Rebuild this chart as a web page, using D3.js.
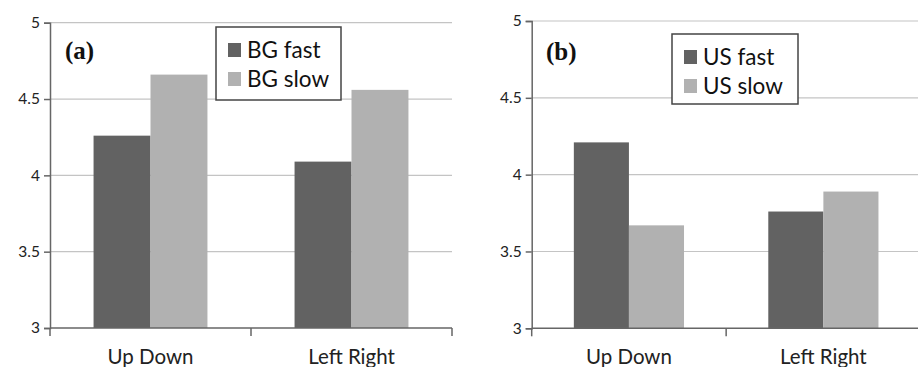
<!DOCTYPE html>
<html><head><meta charset="utf-8">
<script src="https://cdn.jsdelivr.net/npm/d3@7"></script>
<style>body{margin:0;background:#fff}svg{display:block}</style>
</head><body>
<svg id="c" width="918" height="367"></svg>
<script>
const categories = ["Up Down", "Left Right"];
const seriesA = ["BG fast", "BG slow"];
const valuesA = [[4.26, 4.66], [4.09, 4.56]];
const seriesB = ["US fast", "US slow"];
const valuesB = [[4.21, 3.67], [3.76, 3.89]];
const yTicks = [3, 3.5, 4, 4.5, 5];
const yTickLabels = ["3", "3.5", "4", "4.5", "5"];
const panelLabels = ["(a)", "(b)"];
const colors = ["#626262", "#b1b1b1"];

const svg = d3.select("#c");
const FONT = "Lato, 'Open Sans', sans-serif";

function panel(cfg) {
  const g = svg.append("g");
  const x0 = d3.scaleBand().domain(categories).range([cfg.left, cfg.right]).padding(0);
  const x1 = d3.scaleBand().domain(cfg.series).range([0, x0.bandwidth()]).paddingInner(0).paddingOuter(0.765);
  const y = d3.scaleLinear().domain([3, 5]).range([cfg.bottom, cfg.top]);

  // gridlines
  g.append("g").selectAll("line").data(yTicks.filter(t => t > 3)).join("line")
    .attr("x1", cfg.left).attr("x2", cfg.right)
    .attr("y1", d => y(d)).attr("y2", d => y(d))
    .attr("stroke", "#c4c4c4").attr("stroke-width", 1.2);

  // bars
  g.append("g").selectAll("g").data(categories).join("g")
    .attr("transform", d => `translate(${x0(d)},0)`)
    .selectAll("rect").data((d, i) => cfg.values[i].map((v, j) => ({s: cfg.series[j], v, j}))).join("rect")
    .attr("x", d => x1(d.s)).attr("width", x1.bandwidth())
    .attr("y", d => y(d.v)).attr("height", d => y(3) - y(d.v))
    .attr("fill", d => colors[d.j]);

  // y axis
  const ya = d3.axisLeft(y).tickValues(yTicks).tickFormat((d, i) => yTickLabels[i]).tickSize(6).tickPadding(4);
  const yg = g.append("g").attr("transform", `translate(${cfg.left},0)`).call(ya);
  yg.select(".domain").attr("stroke", "#666").attr("stroke-width", 1.5);
  yg.selectAll(".tick line").attr("stroke", "#666").attr("stroke-width", 1.5);
  yg.selectAll(".tick text").attr("font-family", FONT).attr("font-size", 15.5).attr("fill", "#222");

  // x axis
  const xb = d3.scaleLinear().domain([0, 2]).range([cfg.left, cfg.right]);
  const xg = g.append("g").attr("transform", `translate(0,${cfg.bottom})`);
  xg.append("line").attr("x1", cfg.left).attr("x2", cfg.right).attr("stroke", "#666").attr("stroke-width", 1.5);
  xg.selectAll("line.t").data([0, 1, 2]).join("line").attr("class", "t")
    .attr("x1", d => xb(d)).attr("x2", d => xb(d)).attr("y1", 0).attr("y2", 8)
    .attr("stroke", "#666").attr("stroke-width", 1.5);
  xg.selectAll("text").data(categories).join("text")
    .attr("x", d => x0(d) + x0.bandwidth() / 2).attr("y", 36)
    .attr("text-anchor", "middle").attr("font-family", FONT).attr("font-size", 20.5).attr("fill", "#222")
    .text(d => d);

  // panel label
  g.append("text").attr("x", cfg.labelX).attr("y", cfg.labelY)
    .attr("font-family", "'Liberation Serif', 'Times New Roman', serif").attr("font-weight", "bold")
    .attr("font-size", 25).attr("fill", "#111").text(cfg.label);

  // legend
  const lg = g.append("g").attr("transform", `translate(${cfg.legX},${cfg.legY})`);
  lg.append("rect").attr("width", cfg.legW).attr("height", cfg.legH)
    .attr("fill", "#fff").attr("stroke", "#444").attr("stroke-width", 1.5);
  cfg.series.forEach((s, i) => {
    lg.append("rect").attr("x", 12).attr("y", 16 + i * 29).attr("width", 13).attr("height", 14).attr("fill", colors[i]);
    lg.append("text").attr("x", 31).attr("y", 31 + i * 29)
      .attr("font-family", FONT).attr("font-size", 22.5).attr("fill", "#111").text(s);
  });
}

panel({left: 50, right: 452, top: 22.7, bottom: 328, series: seriesA, values: valuesA,
  label: panelLabels[0], labelX: 65, labelY: 59, legX: 216, legY: 27, legW: 125, legH: 73});
panel({left: 531.7, right: 920.6, top: 21, bottom: 328.3, series: seriesB, values: valuesB,
  label: panelLabels[1], labelX: 546, labelY: 60, legX: 672, legY: 34, legW: 126, legH: 70});
</script>
</body></html>
